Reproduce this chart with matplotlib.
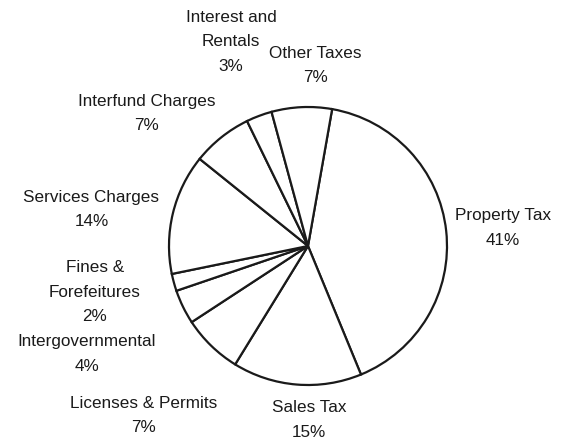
import numpy as np
import matplotlib
matplotlib.use('Agg')
import matplotlib.pyplot as plt

# revenue shares, clockwise from the top
labels = ['Property Tax', 'Sales Tax', 'Licenses & Permits', 'Intergovernmental',
          'Fines &\nForefeitures', 'Services Charges', 'Interfund Charges',
          'Interest and\nRentals', 'Other Taxes']
shares = [41, 15, 7, 4, 2, 14, 7, 3, 7]

# how far out each label sits, and a small angular nudge
label_dist = [1.41, 1.25, 1.70, 1.77, 1.57, 1.58, 1.50, 1.57, 1.30]
label_nudge = [-1, 5, 0, 0, -3, 4, 12, 0, -5]

plt.rcParams['font.family'] = ['Liberation Sans', 'DejaVu Sans']

fig = plt.figure(figsize=(5.66, 4.42), dpi=100)
ax = fig.add_axes([0, 0, 1, 1])

wedges, _ = ax.pie(shares, startangle=80, counterclock=False,
                   colors=['white'] * len(shares),
                   wedgeprops=dict(edgecolor='#1a1a1a', linewidth=1.6))

for w, lab, s, d, n in zip(wedges, labels, shares, label_dist, label_nudge):
    mid = np.deg2rad((w.theta1 + w.theta2) / 2 + n)
    ax.text(d * np.cos(mid), d * np.sin(mid), f'{lab}\n{s}%',
            ha='center', va='center', fontsize=12.3, color='#1a1a1a',
            linespacing=1.8)

ax.set_aspect('auto')
ax.set_xlim(-308 / 139, (566 - 308) / 139)
ax.set_ylim(-196 / 139, (442 - 196) / 139)
ax.axis('off')

fig.savefig('out.png', dpi=100, facecolor='white')
